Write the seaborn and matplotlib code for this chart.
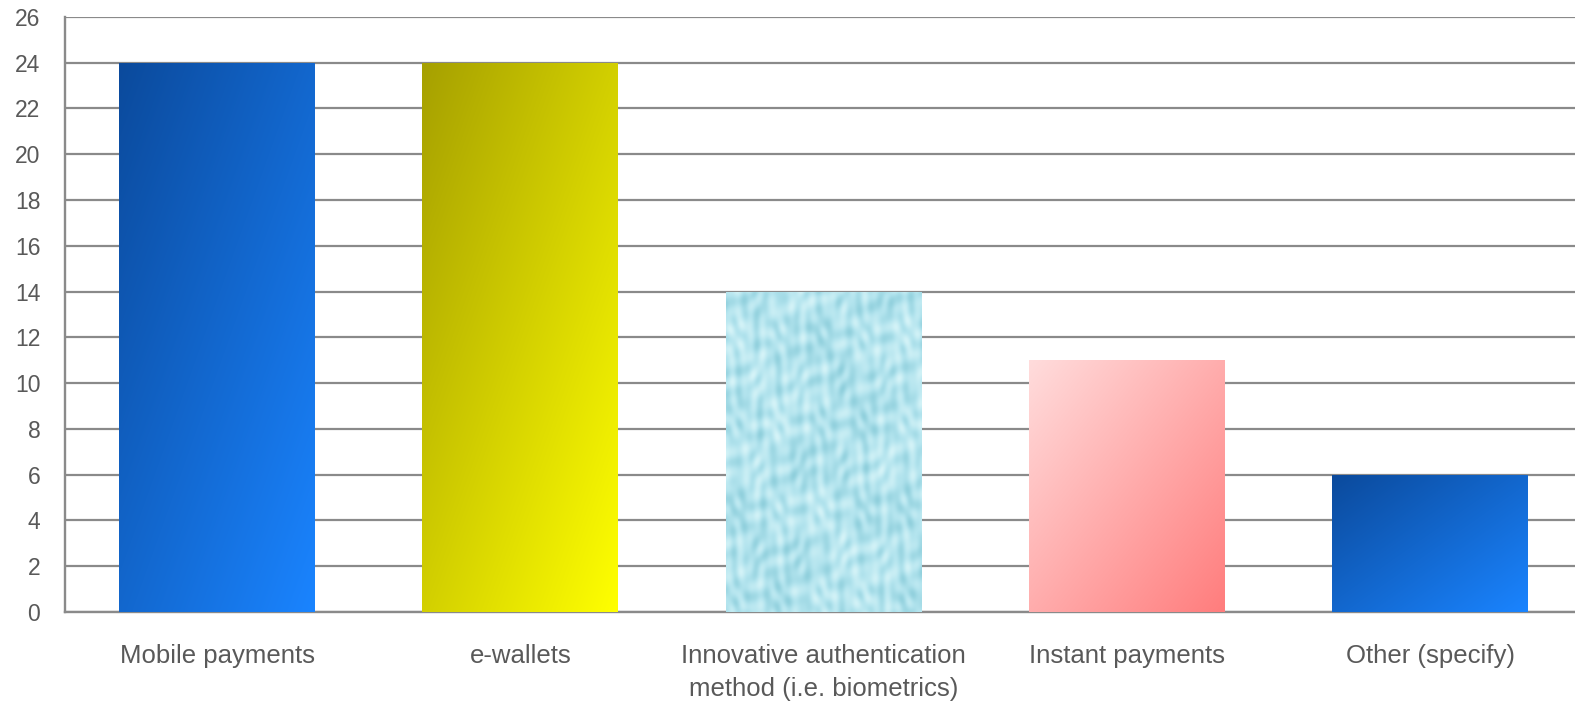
import numpy as np
import pandas as pd
import matplotlib
matplotlib.use("Agg")
import matplotlib.pyplot as plt
import seaborn as sns
from matplotlib.colors import LinearSegmentedColormap

# chart data
categories = ["Mobile payments", "e-wallets",
              "Innovative authentication\nmethod (i.e. biometrics)",
              "Instant payments", "Other (specify)"]
counts = [24, 24, 14, 11, 6]
y_ticks = list(range(0, 27, 2))

# gradient fills: (top-left colour, bottom-right colour); None = water-drop texture
fills = [("#0b4a9c", "#1a84ff"),
         ("#a6a000", "#ffff00"),
         None,
         ("#ffdcdc", "#ff7d7d"),
         ("#0b4a9c", "#1a84ff")]

df = pd.DataFrame({"category": categories, "count": counts})

sns.set_style("white")
plt.rcParams["font.family"] = ["Liberation Sans", "DejaVu Sans"]

fig = plt.figure(figsize=(15.75, 7.05), dpi=100)
ax = fig.add_axes([0.0415, 0.132, 0.963, 0.844])

sns.barplot(data=df, x="category", y="count", ax=ax, width=0.646,
            color="white", edgecolor="none", zorder=2)

grid_col = "#8a8a8a"
ax.set_ylim(0, 26)
ax.set_xlim(-0.5, 4.5)
ax.set_yticks(y_ticks)
ax.yaxis.grid(True, color=grid_col, linewidth=1.6, zorder=0)
ax.set_axisbelow(True)
for side in ["top", "right"]:
    ax.spines[side].set_visible(False)
for side in ["left", "bottom"]:
    ax.spines[side].set_color(grid_col)
    ax.spines[side].set_linewidth(1.7)

ax.set_xlabel("")
ax.set_ylabel("")
ax.tick_params(axis="x", length=0, pad=23, labelsize=18.5, labelcolor="#595959")
ax.tick_params(axis="y", length=0, pad=18, labelsize=16.5, labelcolor="#595959")
for lbl in ax.get_xticklabels():
    lbl.set_linespacing(1.5)

# diagonal gradient grid (0 at top-left, 1 at bottom-right)
n = 200
gx, gy = np.meshgrid(np.linspace(0, 1, n), np.linspace(0, 1, n))
diag = (gx + gy) / 2

# water-drop like texture for the third bar
tx, ty = np.meshgrid(np.linspace(0, 1, 300), np.linspace(0, 1, 600))
tex = (np.sin(tx * 37 + np.sin(ty * 23) * 2.1) * np.cos(ty * 41 + np.cos(tx * 29) * 1.7)
       + 0.5 * np.sin(tx * 71 + ty * 53) * np.cos(tx * 47 - ty * 61))
tex = (tex - tex.min()) / (tex.max() - tex.min())
water = LinearSegmentedColormap.from_list("water", ["#8fcfdc", "#b3e4ee", "#d6f4f8"])

for patch, fill in zip(ax.patches, fills):
    x0, y0 = patch.get_x(), patch.get_y()
    w, h = patch.get_width(), patch.get_height()
    extent = [x0, x0 + w, y0, y0 + h]
    if fill is None:
        im = ax.imshow(tex, cmap=water, extent=extent, origin="upper",
                       aspect="auto", interpolation="bicubic", zorder=3)
    else:
        cmap = LinearSegmentedColormap.from_list("g", list(fill))
        im = ax.imshow(diag, cmap=cmap, extent=extent, origin="upper",
                       aspect="auto", interpolation="bilinear", zorder=3)
    im.set_clip_path(patch)

ax.set_xlim(-0.5, 4.5)
ax.set_ylim(0, 26)

fig.savefig("out.png", dpi=100)
